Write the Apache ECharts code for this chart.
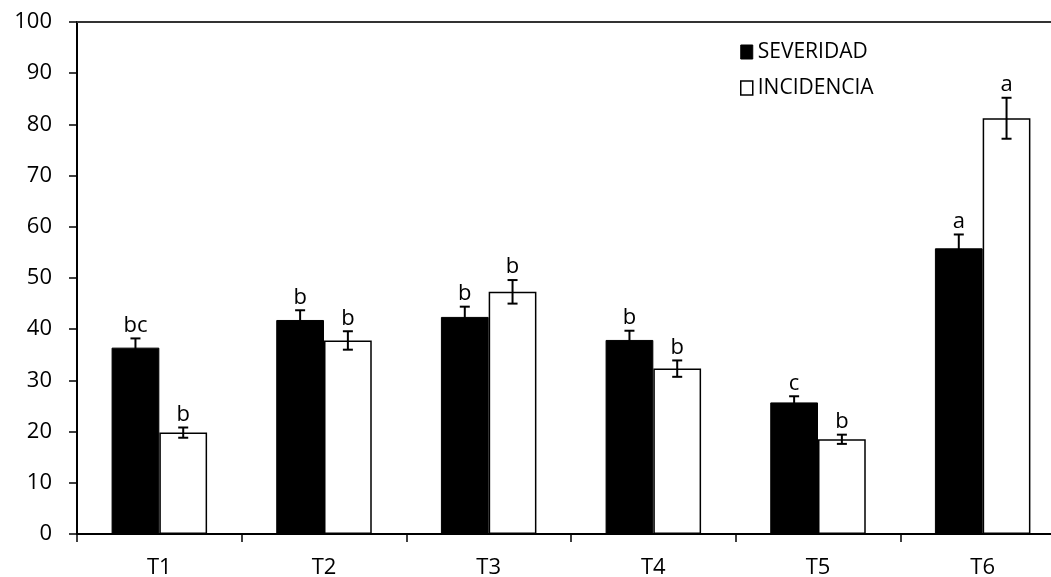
<!DOCTYPE html>
<html>
<head>
<meta charset="utf-8">
<script src="https://cdn.jsdelivr.net/npm/echarts@6/dist/echarts.min.js"></script>
<style>
  html, body { margin: 0; padding: 0; background: #fff; }
  #chart { width: 1051px; height: 577px; }
</style>
</head>
<body>
<div id="chart"></div>
<script>
var categories = ['T1', 'T2', 'T3', 'T4', 'T5', 'T6'];
var severidad = [36.4, 41.8, 42.4, 37.9, 25.7, 55.8];
var severidadErr = [1.8, 1.9, 2.0, 1.8, 1.2, 2.7];
var severidadLetters = ['bc', 'b', 'b', 'b', 'c', 'a'];
var incidencia = [19.8, 37.8, 47.3, 32.3, 18.5, 81.2];
var incidenciaErr = [1.0, 1.8, 2.3, 1.6, 0.9, 4.0];
var incidenciaLetters = ['b', 'b', 'b', 'b', 'b', 'a'];

var FONT = 'Open Sans';
var BAR_FILL = 0.58; // share of the category band used by the pair of bars

function errorData(vals, errs, letters) {
    return vals.map(function (v, i) {
        return [i, v, errs[i], letters[i]];
    });
}

function errorRender(side) {
    return function (params, api) {
        var idx = api.value(0);
        var val = api.value(1);
        var err = api.value(2);
        var letter = api.value(3);
        var band = api.size([1, 0])[0];
        var barW = band * BAR_FILL / 2;
        var center = api.coord([idx, val]);
        var x = center[0] + side * barW / 2;
        var top = api.coord([idx, val + err])[1];
        var bot = api.coord([idx, val - err])[1];
        var cap = 5;
        var style = { stroke: '#000', lineWidth: 2 };
        return {
            type: 'group',
            children: [
                { type: 'line', shape: { x1: x, y1: top, x2: x, y2: bot }, style: style },
                { type: 'line', shape: { x1: x - cap, y1: top, x2: x + cap, y2: top }, style: style },
                { type: 'line', shape: { x1: x - cap, y1: bot, x2: x + cap, y2: bot }, style: style },
                {
                    type: 'text',
                    x: x, y: top - 2,
                    style: {
                        text: letter, fill: '#000', font: '22px "' + FONT + '"',
                        align: 'center', verticalAlign: 'bottom'
                    }
                }
            ]
        };
    };
}

var chart = echarts.init(document.getElementById('chart'));
var option = {
    animation: false,
    backgroundColor: '#fff',
    textStyle: { fontFamily: FONT },
    grid: { left: 77, top: 22, bottom: 43, right: -14, outerBoundsMode: 'none', containLabel: false },
    legend: {
        orient: 'vertical',
        left: 735,
        top: 36,
        itemWidth: 12,
        itemHeight: 14,
        itemGap: 14,
        icon: 'rect',
        textStyle: { fontSize: 21, lineHeight: 22, color: '#000', fontFamily: FONT, padding: [0, 0, 0, 0] },
        data: [
            { name: 'SEVERIDAD', itemStyle: { color: '#000', borderColor: '#000', borderWidth: 1 } },
            { name: 'INCIDENCIA', itemStyle: { color: '#fff', borderColor: '#000', borderWidth: 1.5 } }
        ]
    },
    xAxis: [{
        type: 'category',
        data: categories,
        axisLine: { lineStyle: { color: '#000', width: 2 } },
        axisTick: { show: true, alignWithLabel: false, length: 8, inside: false, lineStyle: { color: '#000', width: 1.5 } },
        axisLabel: { color: '#000', fontSize: 22, margin: 23, fontFamily: FONT },
        splitLine: { show: false }
    }, {
        type: 'category',
        position: 'top',
        data: categories,
        axisLine: { lineStyle: { color: '#333', width: 2 } },
        axisTick: { show: false },
        axisLabel: { show: false }
    }],
    yAxis: {
        type: 'value',
        min: 0,
        max: 100,
        interval: 10,
        axisLine: { show: true, lineStyle: { color: '#000', width: 2 } },
        axisTick: { show: true, length: 8, lineStyle: { color: '#000', width: 1.5 } },
        axisLabel: { color: '#000', fontSize: 22, margin: 25, fontFamily: FONT },
        splitLine: { show: false }
    },
    series: [{
        name: 'SEVERIDAD',
        type: 'bar',
        data: severidad,
        barGap: '0%',
        barCategoryGap: '42%',
        itemStyle: { color: '#000', borderColor: '#000', borderWidth: 1 }
    }, {
        name: 'INCIDENCIA',
        type: 'bar',
        data: incidencia,
        barGap: '0%',
        barCategoryGap: '42%',
        itemStyle: { color: '#fff', borderColor: '#000', borderWidth: 1.5 }
    }, {
        type: 'custom',
        name: 'errSev',
        renderItem: errorRender(-1),
        data: errorData(severidad, severidadErr, severidadLetters),
        z: 5
    }, {
        type: 'custom',
        name: 'errInc',
        renderItem: errorRender(1),
        data: errorData(incidencia, incidenciaErr, incidenciaLetters),
        z: 5
    }]
};
chart.setOption(option);
</script>
</body>
</html>
